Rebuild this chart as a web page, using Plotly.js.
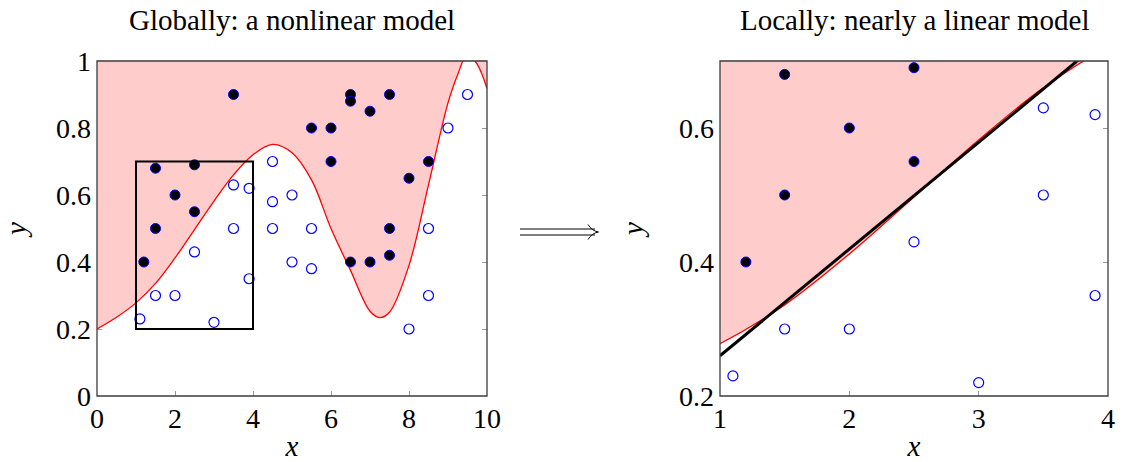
<!DOCTYPE html>
<html><head><meta charset="utf-8">
<script src="https://cdn.plot.ly/plotly-3.0.1.min.js"></script>
<style>html,body{margin:0;padding:0;background:#fff}#chart{width:1122px;height:462px}</style>
</head><body><div id="chart"></div>
<script>
// Data
const filled_x = [1.2, 1.5, 1.5, 2, 2.5, 2.5, 3.5, 5.5, 6, 6, 6.5, 6.5, 6.5, 7, 7, 7.5, 7.5, 7.5, 8, 8.5];
const filled_y = [0.4, 0.5, 0.68, 0.6, 0.55, 0.69, 0.9, 0.8, 0.8, 0.7, 0.9, 0.88, 0.4, 0.85, 0.4, 0.9, 0.5, 0.42, 0.65, 0.7];
const open_x = [1.1, 1.5, 2, 2.5, 3, 3.5, 3.5, 3.9, 3.9, 4.5, 4.5, 4.5, 5, 5, 5.5, 5.5, 8, 8.5, 8.5, 9, 9.5];
const open_y = [0.23, 0.3, 0.3, 0.43, 0.22, 0.5, 0.63, 0.62, 0.35, 0.7, 0.58, 0.5, 0.6, 0.4, 0.5, 0.38, 0.2, 0.5, 0.3, 0.8, 0.9];
const curve_x = [0, 0.5, 1, 1.5, 2, 2.5, 3, 3.5, 4, 4.5, 5, 5.5, 6, 6.5, 7, 7.25, 7.5, 8, 8.5, 9, 9.25, 9.5, 9.75, 10];
const curve_y = [0.2, 0.235, 0.278, 0.336, 0.412, 0.497, 0.582, 0.66, 0.72, 0.751, 0.726, 0.645, 0.5, 0.375, 0.253, 0.234, 0.25, 0.39, 0.63, 0.875, 0.96, 1.02, 0.99, 0.918];
const lin_x = [1, 4];
const lin_y = [0.26, 0.738];
const zoom_box = {x: [1, 4], y: [0.2, 0.7]};
const left_xticks = [0, 2, 4, 6, 8, 10];
const left_yticks = [0, 0.2, 0.4, 0.6, 0.8, 1];
const right_xticks = [1, 2, 3, 4];
const right_yticks = [0.2, 0.4, 0.6];
const titles = ["Globally: a nonlinear model", "Locally: nearly a linear model"];

const W = 1122, H = 462, MT = 61, MB = 66;
const PINK = 'rgb(255,204,204)';
const FONT = 'Liberation Serif, Times New Roman, serif';
const top_y = curve_x.map(() => 1.5);
const px = v => v / W;
const py = v => (H - MB - v) / (H - MT - MB);

function panel(xa, ya) {
  return [
    {x: curve_x, y: top_y, xaxis: xa, yaxis: ya, mode: 'lines', line: {width: 0, color: PINK}, hoverinfo: 'skip', showlegend: false},
    {x: curve_x, y: curve_y, xaxis: xa, yaxis: ya, mode: 'lines', line: {color: 'rgb(255,0,0)', width: 1.3, shape: 'spline', smoothing: 1}, fill: 'tonexty', fillcolor: PINK, showlegend: false}
  ];
}
function markers(xa, ya) {
  return [
    {x: filled_x, y: filled_y, xaxis: xa, yaxis: ya, mode: 'markers', marker: {size: 10, color: 'black', line: {color: 'rgb(0,0,255)', width: 1}}, showlegend: false},
    {x: open_x, y: open_y, xaxis: xa, yaxis: ya, mode: 'markers', marker: {size: 10, color: 'rgba(255,255,255,0)', line: {color: 'rgb(0,0,255)', width: 1.2}}, showlegend: false}
  ];
}

const data = [
  ...panel('x', 'y'), ...markers('x', 'y'),
  ...panel('x2', 'y2'),
  {x: lin_x, y: lin_y, xaxis: 'x2', yaxis: 'y2', mode: 'lines', line: {color: 'black', width: 3}, showlegend: false},
  ...markers('x2', 'y2')
];

const axBase = {
  ticks: 'inside', ticklen: 5, tickcolor: '#999', tickwidth: 1, mirror: 'ticks',
  showline: false, showgrid: false, zeroline: false, layer: 'below traces',
  tickfont: {family: FONT, size: 28, color: 'black'}
};
const xTitle = {text: '<i>x</i>', font: {family: FONT, size: 29}, standoff: 6};
const yTitle = {text: '<i>y</i>', font: {family: FONT, size: 29}, standoff: 26};
const L = [97 / W, 487 / W], R = [720 / W, 1108 / W];

const layout = {
  width: W, height: H,
  margin: {l: 0, r: 0, t: MT, b: MB},
  paper_bgcolor: 'white', plot_bgcolor: 'white',
  font: {family: FONT, size: 28, color: 'black'},
  xaxis: Object.assign({}, axBase, {domain: L, range: [0, 10], tickvals: left_xticks, anchor: 'y', title: xTitle, ticklabelstandoff: 3}),
  yaxis: Object.assign({}, axBase, {domain: [0, 1], range: [0, 1], tickvals: left_yticks, anchor: 'x', title: yTitle, ticklabelstandoff: 5}),
  xaxis2: Object.assign({}, axBase, {domain: R, range: zoom_box.x, tickvals: right_xticks, anchor: 'y2', title: xTitle, ticklabelstandoff: 3}),
  yaxis2: Object.assign({}, axBase, {domain: [0, 1], range: zoom_box.y, tickvals: right_yticks, anchor: 'x2', title: yTitle, ticklabelstandoff: 5}),
  shapes: [
    {type: 'rect', xref: 'x', yref: 'y', x0: zoom_box.x[0], x1: zoom_box.x[1], y0: zoom_box.y[0], y1: zoom_box.y[1], line: {color: 'black', width: 2}, layer: 'above'},
    {type: 'rect', xref: 'x domain', yref: 'y domain', x0: 0, x1: 1, y0: 0, y1: 1, line: {color: 'rgb(60,60,60)', width: 1.3}, layer: 'above'},
    {type: 'rect', xref: 'x2 domain', yref: 'y2 domain', x0: 0, x1: 1, y0: 0, y1: 1, line: {color: 'rgb(60,60,60)', width: 1.3}, layer: 'above'},
    // long double arrow between the panels
    {type: 'line', xref: 'paper', yref: 'paper', x0: px(520), x1: px(595), y0: py(229), y1: py(229), line: {color: 'black', width: 1}},
    {type: 'line', xref: 'paper', yref: 'paper', x0: px(520), x1: px(595), y0: py(235), y1: py(235), line: {color: 'black', width: 1}},
    {type: 'path', xref: 'paper', yref: 'paper',
     path: `M ${px(588)} ${py(224.5)} Q ${px(592)} ${py(231)} ${px(598.5)} ${py(232)} Q ${px(592)} ${py(233)} ${px(588)} ${py(239.5)}`,
     line: {color: 'black', width: 1}}
  ],
  annotations: [
    {text: titles[0], xref: 'x domain', yref: 'paper', x: 0.5, y: 1, yanchor: 'middle', yshift: 41, showarrow: false, font: {family: FONT, size: 29}},
    {text: titles[1], xref: 'x2 domain', yref: 'paper', x: 0.5, y: 1, yanchor: 'middle', yshift: 41, showarrow: false, font: {family: FONT, size: 29}}
  ]
};

Plotly.newPlot('chart', data, layout, {staticPlot: true});
</script>
</body></html>
